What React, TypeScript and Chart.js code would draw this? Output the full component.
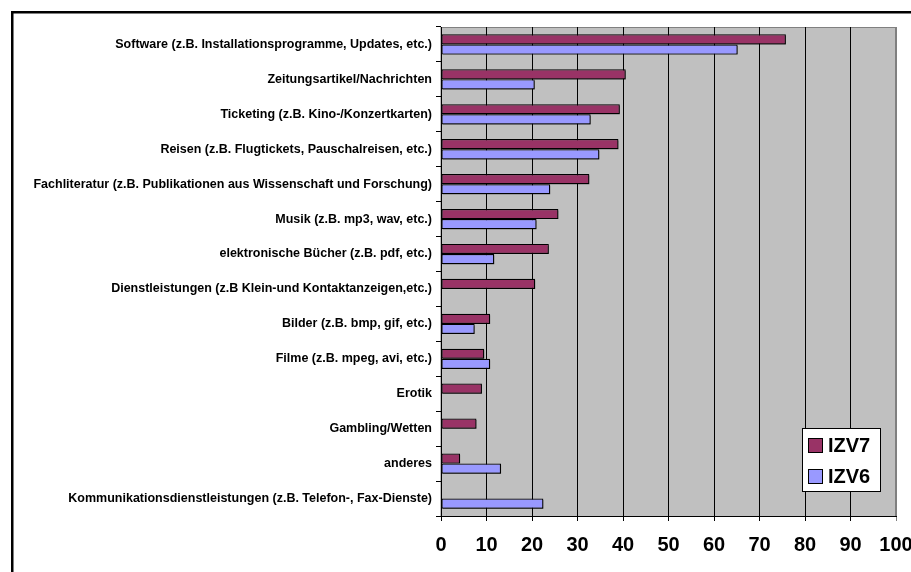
import React, { useEffect, useRef } from "react";
import { Chart, registerables } from "chart.js";

Chart.register(...registerables);

const categories = [
  "Software (z.B. Installationsprogramme, Updates, etc.)",
  "Zeitungsartikel/Nachrichten",
  "Ticketing (z.B. Kino-/Konzertkarten)",
  "Reisen (z.B. Flugtickets, Pauschalreisen, etc.)",
  "Fachliteratur (z.B. Publikationen aus Wissenschaft und Forschung)",
  "Musik (z.B. mp3, wav, etc.)",
  "elektronische Bücher (z.B. pdf, etc.)",
  "Dienstleistungen (z.B Klein-und Kontaktanzeigen,etc.)",
  "Bilder (z.B. bmp, gif, etc.)",
  "Filme (z.B. mpeg, avi, etc.)",
  "Erotik",
  "Gambling/Wetten",
  "anderes",
  "Kommunikationsdienstleistungen (z.B. Telefon-, Fax-Dienste)",
];

const izv7 = [75.8, 40.6, 39.3, 39.0, 32.6, 25.8, 23.7, 20.7, 10.8, 9.5, 9.0, 7.8, 4.2, null];
const izv6 = [65.2, 20.6, 32.9, 34.8, 24.0, 21.0, 11.7, null, 7.4, 10.8, null, null, 13.2, 22.5];

const seriesNames = ["IZV7", "IZV6"];
const seriesColors = ["#993366", "#9999FF"];

const xMin = 0;
const xMax = 100;
const xStep = 10;

const FONT = "Arial, 'Liberation Sans', sans-serif";

export default function App() {
  const ref = useRef<HTMLCanvasElement | null>(null);

  useEffect(() => {
    if (!ref.current) return;

    const framePlugin = {
      id: "frame",
      beforeDraw(chart: any) {
        const { ctx, chartArea } = chart;
        ctx.save();
        ctx.fillStyle = "#C0C0C0";
        ctx.fillRect(chartArea.left, chartArea.top, chartArea.right - chartArea.left, chartArea.bottom - chartArea.top);
        ctx.strokeStyle = "#808080";
        ctx.lineWidth = 1;
        ctx.strokeRect(chartArea.left, chartArea.top + 0.5, chartArea.right - chartArea.left - 0.5, chartArea.bottom - chartArea.top);
        ctx.strokeStyle = "#000";
        ctx.lineWidth = 2.5;
        ctx.strokeRect(12.25, 12.25, 1200, 1200);
        ctx.restore();
      },
    };

    const shadowPlugin = {
      id: "barShadow",
      beforeDatasetsDraw(chart: any) {
        const ctx = chart.ctx;
        ctx.save();
        ctx.shadowColor = "rgba(0,0,0,0.5)";
        ctx.shadowOffsetX = 1.5;
        ctx.shadowOffsetY = 1.5;
        ctx.shadowBlur = 0;
      },
      afterDatasetsDraw(chart: any) {
        chart.ctx.restore();
      },
    };

    const legendPlugin = {
      id: "boxLegend",
      afterDraw(chart: any) {
        const { ctx, chartArea } = chart;
        const w = 78;
        const h = 63;
        const x = chartArea.right - 16 - w;
        const y = chartArea.bottom - 25 - h;
        ctx.save();
        ctx.fillStyle = "#fff";
        ctx.fillRect(x, y, w, h);
        ctx.strokeStyle = "#000";
        ctx.lineWidth = 1;
        ctx.strokeRect(x + 0.5, y + 0.5, w, h);
        ctx.font = `bold 20px ${FONT}`;
        ctx.textBaseline = "middle";
        ctx.textAlign = "left";
        chart.data.datasets.forEach((ds: any, i: number) => {
          const cy = y + 17 + i * 31;
          ctx.fillStyle = ds.backgroundColor;
          ctx.fillRect(x + 6, cy - 7, 14, 14);
          ctx.strokeStyle = "#000";
          ctx.strokeRect(x + 6.5, cy - 6.5, 14, 14);
          ctx.fillStyle = "#000";
          ctx.fillText(ds.label, x + 26, cy + 1);
        });
        ctx.restore();
      },
    };

    const chart = new Chart(ref.current, {
      type: "bar",
      data: {
        labels: categories,
        datasets: [
          {
            label: seriesNames[0],
            data: izv7 as any,
            backgroundColor: seriesColors[0],
            borderColor: "#000",
            borderWidth: 1.2,
            borderSkipped: false,
            categoryPercentage: 0.58,
            barPercentage: 1.0,
          },
          {
            label: seriesNames[1],
            data: izv6 as any,
            backgroundColor: seriesColors[1],
            borderColor: "#000",
            borderWidth: 1.2,
            borderSkipped: false,
            categoryPercentage: 0.58,
            barPercentage: 1.0,
          },
        ],
      },
      options: {
        indexAxis: "y",
        animation: false,
        responsive: false,
        maintainAspectRatio: false,
        layout: { padding: { top: 27, right: 15, left: 0, bottom: 0 } },
        plugins: {
          legend: { display: false },
          tooltip: { enabled: false },
        },
        scales: {
          x: {
            min: xMin,
            max: xMax,
            ticks: {
              stepSize: xStep,
              color: "#000",
              font: { family: FONT, size: 20, weight: "bold" },
              padding: 12,
              maxRotation: 0,
              autoSkip: false,
            },
            grid: {
              color: (c: any) => (c.tick && c.tick.value === xMax ? "#808080" : "#000"),
              lineWidth: 1,
              tickLength: 5,
              drawTicks: true,
            },
            border: { color: "#000", width: 1 },
            afterFit(scale: any) {
              scale.height = 56;
              scale.paddingLeft = 0;
              scale.paddingRight = 0;
            },
          },
          y: {
            ticks: {
              color: "#000",
              font: { family: FONT, size: 12.5, weight: "bold" },
              padding: 4,
              autoSkip: false,
            },
            grid: {
              drawOnChartArea: false,
              drawTicks: true,
              tickLength: 5,
              offset: true,
              color: "#000",
            },
            border: { color: "#000", width: 1 },
            afterFit(scale: any) {
              scale.width = 441;
            },
          },
        },
      },
      plugins: [framePlugin, shadowPlugin, legendPlugin],
    });

    return () => chart.destroy();
  }, []);

  return (
    <div style={{ position: "fixed", left: 0, top: 0, width: 911, height: 572, background: "#fff" }}>
      <canvas ref={ref} width={911} height={572} style={{ width: 911, height: 572 }} />
    </div>
  );
}
